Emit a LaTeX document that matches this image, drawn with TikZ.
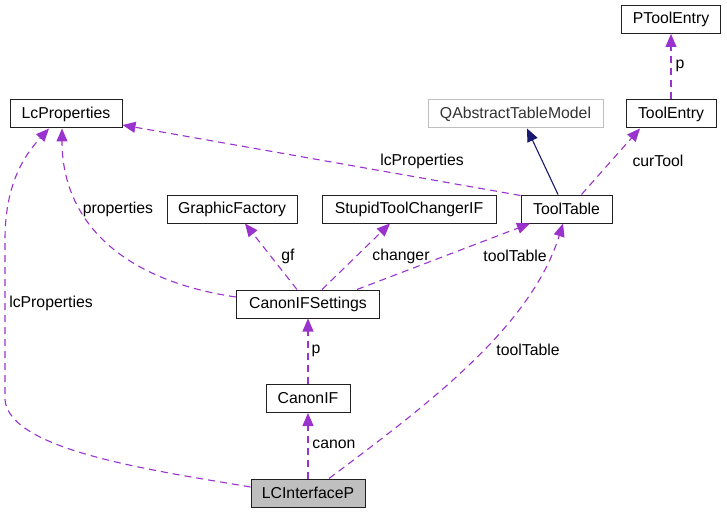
\documentclass[tikz,border=0pt]{standalone}
\usepackage{fontspec}
\setmainfont{Liberation Sans}
\usetikzlibrary{arrows.meta}
\definecolor{edgep}{HTML}{9A32CD}
\definecolor{navyedge}{HTML}{191970}
\definecolor{boxline}{HTML}{202020}
\definecolor{extline}{HTML}{BFBFBF}
\definecolor{focusfill}{HTML}{BFBFBF}
\begin{document}
\begin{tikzpicture}[x=1pt,y=-1pt,
 box/.style={draw=boxline, line width=1pt, fill=white, minimum height=28pt, inner sep=0pt, font=\fontsize{15.8}{18}\selectfont, text=black},
 ext/.style={box, draw=extline, text=black!80},
 focus/.style={box, fill=focusfill},
 dep/.style={draw=edgep, line width=1.1pt, dash pattern=on 7pt off 5pt, -{Triangle[length=13pt,width=11pt]}},
 inh/.style={draw=navyedge, line width=1.1pt, -{Triangle[length=13pt,width=11pt]}},
 lbl/.style={font=\fontsize{15.8}{18}\selectfont, inner sep=0pt, text=black}]
\useasboundingbox (0,0) rectangle (727,513);
% nodes
\node[box, minimum width=99pt] (PTE) at (671,19.5) {PToolEntry};
\node[box, minimum width=112pt] (LCP) at (66,114) {LcProperties};
\node[ext, minimum width=175pt] (QAT) at (515.5,114) {QAbstractTableModel};
\node[box, minimum width=90pt] (TE) at (671,114) {ToolEntry};
\node[box, minimum width=91pt] (TT) at (566.5,209) {ToolTable};
\node[box, minimum width=174pt] (STC) at (409,209) {StupidToolChangerIF};
\node[box, minimum width=130pt] (GF) at (232,209) {GraphicFactory};
\node[box, minimum width=143pt] (CIS) at (308,304) {CanonIFSettings};
\node[box, minimum width=84pt] (CIF) at (308,398.5) {CanonIF};
\node[focus, minimum width=114pt] (LCI) at (308,493) {LCInterfaceP};
% edges
\draw[dep] (TE.north) -- (PTE.south);
\draw[dep] ([xshift=15pt]TT.north) -- ([xshift=-31pt]TE.south);
\draw[inh] ([xshift=-8.5pt]TT.north) -- ([xshift=11.5pt]QAT.south);
\draw[dep] ([yshift=-1pt]TT.north west) -- ([yshift=-11pt]LCP.east);
\draw[dep] ([yshift=6pt]LCI.west) .. controls (150,470) and (10,450) .. (5,400)
   -- (5,240) .. controls (5,190) and (20,160) .. ([xshift=-17pt]LCP.south);
\draw[dep] ([yshift=7pt]CIS.west) .. controls (120,280) and (62,220) .. ([xshift=-4pt]LCP.south);
\draw[dep] ([xshift=-11pt]CIS.north) -- ([xshift=13pt]GF.south);
\draw[dep] ([xshift=14pt]CIS.north) -- ([xshift=-19pt]STC.south);
\draw[dep] ([xshift=49pt]CIS.north) -- ([xshift=-36.5pt]TT.south);
\draw[dep] (CIF.north) -- (CIS.south);
\draw[dep] (LCI.north) -- (CIF.south);
\draw[dep] ([xshift=21pt]LCI.north) .. controls (420,410) and (530,330) .. ([xshift=-3.5pt]TT.south);
% labels
\node[lbl] (l1) at (680,66) {p};
\node[lbl] (l2) at (658,161) {curTool};
\node[lbl] (l3) at (422,161) {lcProperties};
\node[lbl] (l4) at (118,209) {properties};
\node[lbl] (l5) at (288,256) {gf};
\node[lbl] (l6) at (401,256) {changer};
\node[lbl] (l7) at (515,256) {toolTable};
\node[lbl] (l8) at (51,303) {lcProperties};
\node[lbl] (l9) at (316,351) {p};
\node[lbl] (l10) at (334,444) {canon};
\node[lbl] (l11) at (528,350) {toolTable};
\end{tikzpicture}
\end{document}
